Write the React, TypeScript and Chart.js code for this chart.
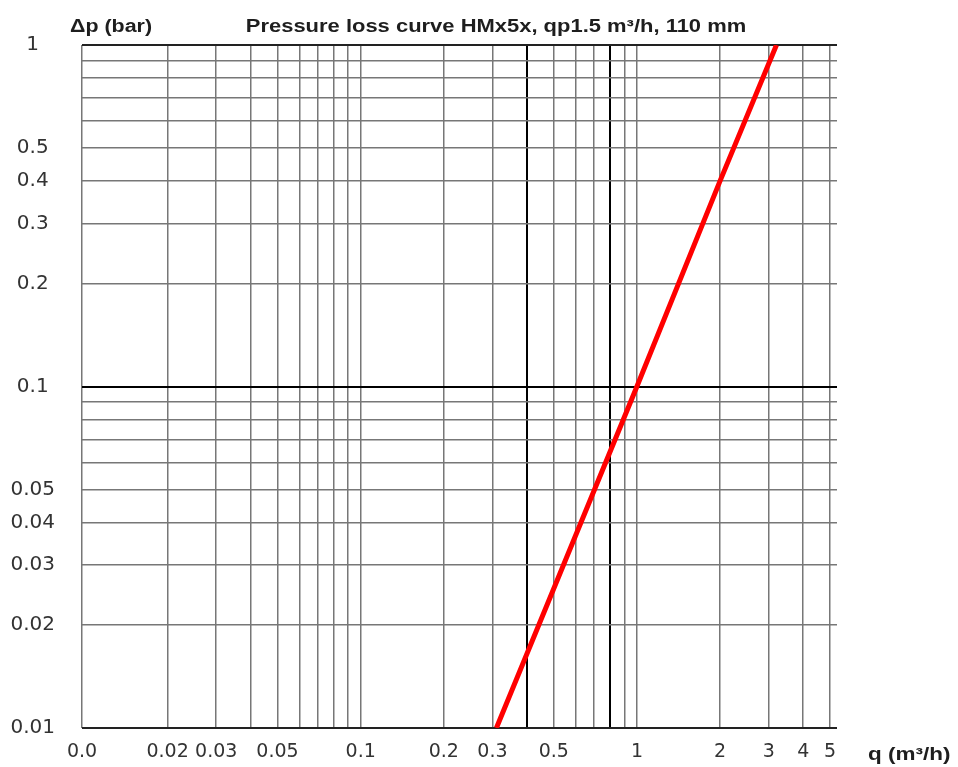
import React, { useEffect, useRef } from "react";
import { Chart, registerables } from "chart.js";

Chart.register(...registerables);

// ---- text ----
const chartTitle = "Pressure loss curve HMx5x, qp1.5 m³/h, 110 mm";
const yAxisTitle = "Δp (bar)";
const xAxisTitle = "q (m³/h)";

// ---- series: pressure loss curve ----
const flowRates = [0.31, 1, 2, 3.2];
const pressureLoss = [0.01, 0.1, 0.4, 1];

// ---- axes ----
const xMin = 0.0098;
const xMax = 5.3;
const yMin = 0.01;
const yMax = 1;

const xGridValues = [
  0.0098, 0.02, 0.03, 0.04, 0.05, 0.06, 0.07, 0.08, 0.09, 0.1,
  0.2, 0.3, 0.4, 0.5, 0.6, 0.7, 0.8, 0.9, 1, 2, 3, 4, 5,
];
const xTickValues = [0.0098, 0.02, 0.03, 0.05, 0.1, 0.2, 0.3, 0.5, 1, 2, 3, 4, 5];
const xTickLabels = ["0.0", "0.02", "0.03", "0.05", "0.1", "0.2", "0.3", "0.5", "1", "2", "3", "4", "5"];
const xBoldGrid = [0.4, 0.8];

const yGridValues = [
  0.01, 0.02, 0.03, 0.04, 0.05, 0.06, 0.07, 0.08, 0.09, 0.1,
  0.2, 0.3, 0.4, 0.5, 0.6, 0.7, 0.8, 0.9, 1,
];
const yTickValues = [0.01, 0.02, 0.03, 0.04, 0.05, 0.1, 0.2, 0.3, 0.4, 0.5, 1];
const yTickLabels = ["0.01", "0.02", "0.03", "0.04", "0.05", "0.1", "0.2", "0.3", "0.4", "0.5", "1"];
const yBoldGrid = [0.1];
const yEdgeGrid = [0.01, 1];

const near = (a: number, b: number) => Math.abs(a - b) < 1e-7;
const has = (arr: number[], v: number) => arr.some((a) => near(a, v));

export default function App() {
  const canvasRef = useRef<HTMLCanvasElement | null>(null);

  useEffect(() => {
    document.body.style.margin = "0";
    const canvas = canvasRef.current;
    if (!canvas) return;

    const drawStretched = (ctx: any, text: string, x: number, y: number, align: string, stretch: number) => {
      ctx.save();
      ctx.translate(x, y);
      ctx.scale(stretch, 1);
      ctx.textAlign = align;
      ctx.fillText(text, 0, 0);
      ctx.restore();
    };

    const textPlugin = {
      id: "texts",
      afterDraw(chart: any) {
        const ctx = chart.ctx;
        ctx.save();
        ctx.fillStyle = "#1e1e1e";
        ctx.font = 'bold 18px "Liberation Sans", Arial, sans-serif';
        ctx.textBaseline = "alphabetic";
        drawStretched(ctx, chartTitle, 496, 32, "center", 1.22);
        drawStretched(ctx, yAxisTitle, 70, 32, "left", 1.19);
        drawStretched(ctx, xAxisTitle, 868, 760, "left", 1.25);
        ctx.restore();
      },
    };

    const chart = new Chart(canvas, {
      type: "line",
      data: {
        datasets: [
          {
            data: flowRates.map((q, i) => ({ x: q, y: pressureLoss[i] })),
            borderColor: "#ff0000",
            borderWidth: 5,
            pointRadius: 0,
            tension: 0,
            fill: false,
          },
        ],
      },
      options: {
        animation: false,
        responsive: true,
        maintainAspectRatio: false,
        layout: { padding: { top: 45, right: 121, bottom: 0, left: 0 } },
        plugins: {
          legend: { display: false },
          tooltip: { enabled: false },
          title: { display: false },
        },
        scales: {
          x: {
            type: "logarithmic",
            min: xMin,
            max: xMax,
            afterBuildTicks: (scale: any) => {
              scale.ticks = xGridValues.map((v) => ({ value: v }));
            },
            afterFit: (scale: any) => {
              scale.height = 36;
            },
            border: { display: false },
            grid: {
              drawTicks: false,
              color: (c: any) => (has(xBoldGrid, c.tick?.value) ? "#000000" : "#777777"),
              lineWidth: (c: any) => (has(xBoldGrid, c.tick?.value) ? 2 : 1.5),
            },
            ticks: {
              autoSkip: false,
              maxRotation: 0,
              minRotation: 0,
              padding: 13,
              color: "#333333",
              font: { family: '"DejaVu Sans", sans-serif', size: 19 },
              callback: (value: any) => {
                const i = xTickValues.findIndex((v) => near(v, Number(value)));
                return i >= 0 ? xTickLabels[i] : "";
              },
            },
          },
          y: {
            type: "logarithmic",
            min: yMin,
            max: yMax,
            afterBuildTicks: (scale: any) => {
              scale.ticks = yGridValues.map((v) => ({ value: v }));
            },
            afterFit: (scale: any) => {
              scale.width = 82;
            },
            border: { display: false },
            grid: {
              drawTicks: false,
              color: (c: any) => {
                const v = c.tick?.value;
                if (has(yBoldGrid, v)) return "#000000";
                if (has(yEdgeGrid, v)) return "#222222";
                return "#777777";
              },
              lineWidth: (c: any) => {
                const v = c.tick?.value;
                if (has(yBoldGrid, v) || has(yEdgeGrid, v)) return 2;
                return 1.5;
              },
            },
            ticks: {
              autoSkip: false,
              crossAlign: "center",
              padding: 27,
              color: "#333333",
              font: { family: '"DejaVu Sans", sans-serif', size: 20 },
              callback: (value: any) => {
                const i = yTickValues.findIndex((v) => near(v, Number(value)));
                return i >= 0 ? yTickLabels[i] : "";
              },
            },
          },
        },
      } as any,
      plugins: [textPlugin],
    });

    return () => {
      chart.destroy();
    };
  }, []);

  return (
    <div style={{ position: "relative", width: 958, height: 767, background: "#ffffff" }}>
      <canvas ref={canvasRef} />
    </div>
  );
}
